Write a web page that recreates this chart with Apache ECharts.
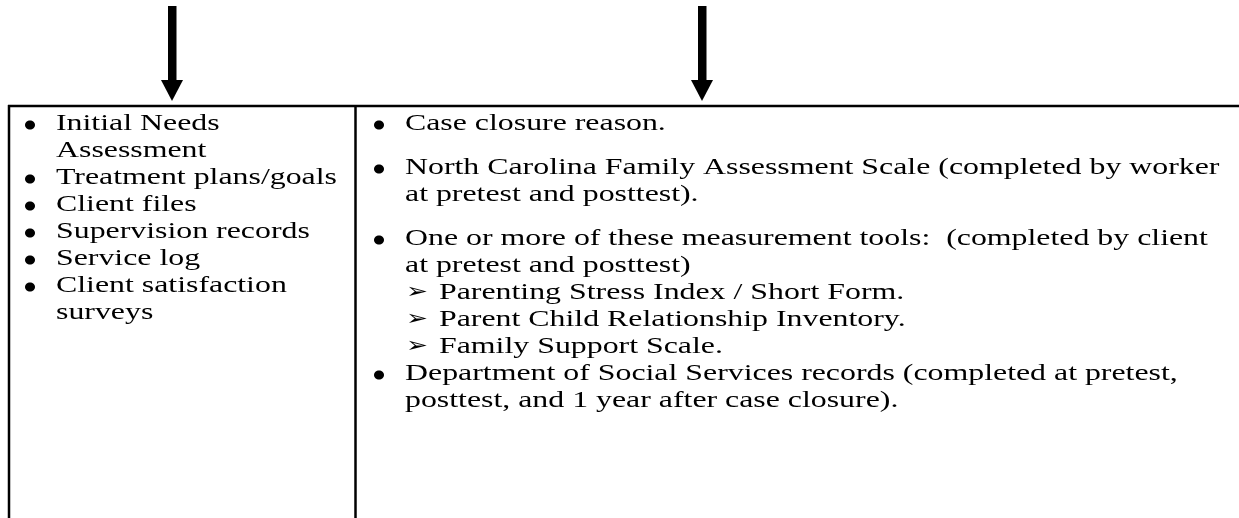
<!DOCTYPE html>
<html>
<head>
<meta charset="utf-8">
<script src="https://cdn.jsdelivr.net/npm/echarts@6/dist/echarts.min.js"></script>
<style>
  html, body { margin: 0; padding: 0; background: #fff; }
  #main { width: 1239px; height: 518px; }
</style>
</head>
<body>
<div id="main"></div>
<script>
// left column bullets (each entry = wrapped lines of one bullet)
const leftItems = [
  ["Initial Needs", "Assessment"],
  ["Treatment plans/goals"],
  ["Client files"],
  ["Supervision records"],
  ["Service log"],
  ["Client satisfaction", "surveys"]
];
// right column bullets before the sub list
const rightItems = [
  ["Case closure reason."],
  ["North Carolina Family Assessment Scale (completed by worker", "at pretest and posttest)."],
  ["One or more of these measurement tools:  (completed by client", "at pretest and posttest)"]
];
// sub list (arrowhead bullets)
const subItems = [
  "Parenting Stress Index / Short Form.",
  "Parent Child Relationship Inventory.",
  "Family Support Scale."
];
// last right bullet
const lastItems = [
  ["Department of Social Services records (completed at pretest,", "posttest, and 1 year after case closure)."]
];

const chart = echarts.init(document.getElementById("main"), null, { renderer: "canvas" });

const fam = '"Liberation Serif", "Times New Roman", serif';
const fSize = 23.5;
const stretch = 1.355; // source page is squeezed vertically
const lineH = 27;
const els = [];

function textEl(str, x, y) {
  return {
    type: "text",
    x: x,
    y: y,
    scaleX: stretch,
    style: { text: str, fontSize: fSize, fontFamily: fam, fill: "#000", verticalAlign: "middle", align: "left" }
  };
}
function dot(x, y) {
  return { type: "ellipse", shape: { cx: x, cy: y, rx: 5, ry: 4.5 }, style: { fill: "#000" } };
}
function arrow(cx) {
  els.push({ type: "rect", shape: { x: cx - 4, y: 6, width: 8.5, height: 76 }, style: { fill: "#000" } });
  els.push({ type: "polygon", shape: { points: [[cx - 11, 80], [cx + 11, 80], [cx, 101]] }, style: { fill: "#000" } });
}

// arrows
arrow(172);
arrow(702);

// table borders
els.push({ type: "line", shape: { x1: 8, y1: 106, x2: 1239, y2: 106 }, style: { stroke: "#000", lineWidth: 2.5 } });
els.push({ type: "line", shape: { x1: 9, y1: 105, x2: 9, y2: 518 }, style: { stroke: "#000", lineWidth: 2.5 } });
els.push({ type: "line", shape: { x1: 355.5, y1: 105, x2: 355.5, y2: 518 }, style: { stroke: "#000", lineWidth: 2.5 } });

// left column
let y = 124;
leftItems.forEach(item => {
  els.push(dot(30, y + 1));
  item.forEach(line => {
    els.push(textEl(line, 56, y));
    y += lineH;
  });
});

// right column
y = 124;
const paraGap = 17;
rightItems.forEach((item, i) => {
  els.push(dot(379, y + 1));
  item.forEach(line => {
    els.push(textEl(line, 405, y));
    y += lineH;
  });
  if (i < rightItems.length - 1) y += paraGap;
});
subItems.forEach(line => {
  els.push({
    type: "text", x: 406, y: y, scaleX: 1.25,
    style: { text: "\u27A2", fontSize: 21, fontFamily: '"DejaVu Sans"', fill: "#000", verticalAlign: "middle", align: "left" }
  });
  els.push(textEl(line, 439, y));
  y += lineH;
});
lastItems.forEach(item => {
  els.push(dot(379, y + 1));
  item.forEach(line => {
    els.push(textEl(line, 405, y));
    y += lineH;
  });
});

chart.setOption({
  backgroundColor: "#fff",
  animation: false,
  graphic: { elements: els }
});
</script>
</body>
</html>
